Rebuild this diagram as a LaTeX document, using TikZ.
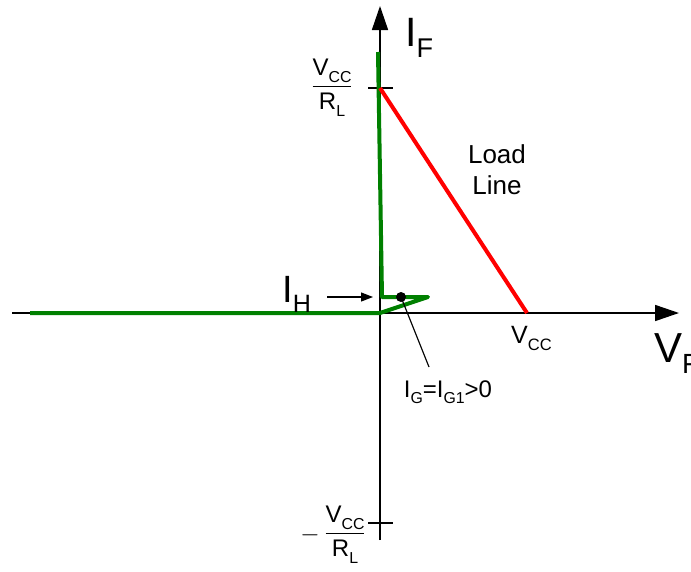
\documentclass[tikz,border=0pt]{standalone}
\usepackage{fontspec}
\setmainfont{Liberation Sans}
\usepackage{graphicx}
\usetikzlibrary{arrows.meta}

\newcommand{\lsub}[1]{\raisebox{-0.28em}{\scalebox{0.66}{#1}}}

\begin{document}
\begin{tikzpicture}[
            x=1pt, y=-1pt,
            axis/.style={
                line width=1.6pt,
                -{Triangle[length=24pt,width=16pt]}
            },
            tickmark/.style={line width=1.6pt},
            curve/.style={
                draw=green!50!black,
                line width=4pt,
                line join=round
            },
            loadline/.style={draw=red, line width=4pt},
            lbl/.style={inner sep=0pt, font=\fontsize{#1}{#1}\selectfont},
            lbl/.default=24
        ]
            \useasboundingbox (0,0) rectangle (691,571);

            \coordinate (O) at (380,313);
            \coordinate (ytop) at (380,6);
            \coordinate (ybot) at (380,540);
            \coordinate (xleft) at (12,313);
            \coordinate (xright) at (679,313);

            % axes
            \draw[axis] (xleft) -- (xright);
            \draw[axis] (ybot) -- (ytop);

            \coordinate (t1) at (380,88);
            \coordinate (t2) at (380,523);
            \draw[tickmark] ([xshift=-12pt]t1) -- ([xshift=13pt]t1);
            \draw[tickmark] ([xshift=-12pt]t2) -- ([xshift=13pt]t2);

            % characteristic
            \draw[curve] (30,313) -- (O) -- (428,297) -- (382,297) -- (378,52);

            % load line
            \coordinate (vcc) at (527,313);
            \draw[loadline] (t1) -- (vcc);

            \node[lbl=41, anchor=base west] (iF) at (405,46) {I\lsub{F}};
            \node[lbl=42, anchor=base west] (vF) at (654,362) {V\lsub{F}};
            \node[lbl=25, anchor=base west] (vccl) at (511,343) {V\lsub{CC}};
            \node[lbl=26, align=center] (load) at (497,170)
                {Load\\[5pt]Line};

            \node[lbl] (frac1) at (332,88)
                {$\displaystyle\frac{\mbox{V\lsub{CC}}}{\mbox{R\lsub{L}}}$};
            \node[lbl] (frac2) at (345,535)
                {$\displaystyle\frac{\mbox{V\lsub{CC}}}{\mbox{R\lsub{L}}}$};
            \node[lbl] (minus) at (310,535) {$-$};

            % holding current
            \node[lbl=38, anchor=base west] (iH) at (282,302) {I\lsub{H}};
            \coordinate (hpt) at (373,297);
            \draw[line width=1.2pt, -{Triangle[length=12pt,width=9pt]}]
                (327,297) -- (hpt);

            % gate current
            \node[circle, fill, inner sep=0pt, minimum size=10pt] (gdot) at (401,297) {};
            \node[lbl, anchor=base] (gate) at (448,397) {I\lsub{G}=I\lsub{G1}>0};
            \coordinate (gtip) at (429,367);
            \draw[line width=1.2pt] (gdot.center) -- (gtip);

        \end{tikzpicture}
\end{document}
